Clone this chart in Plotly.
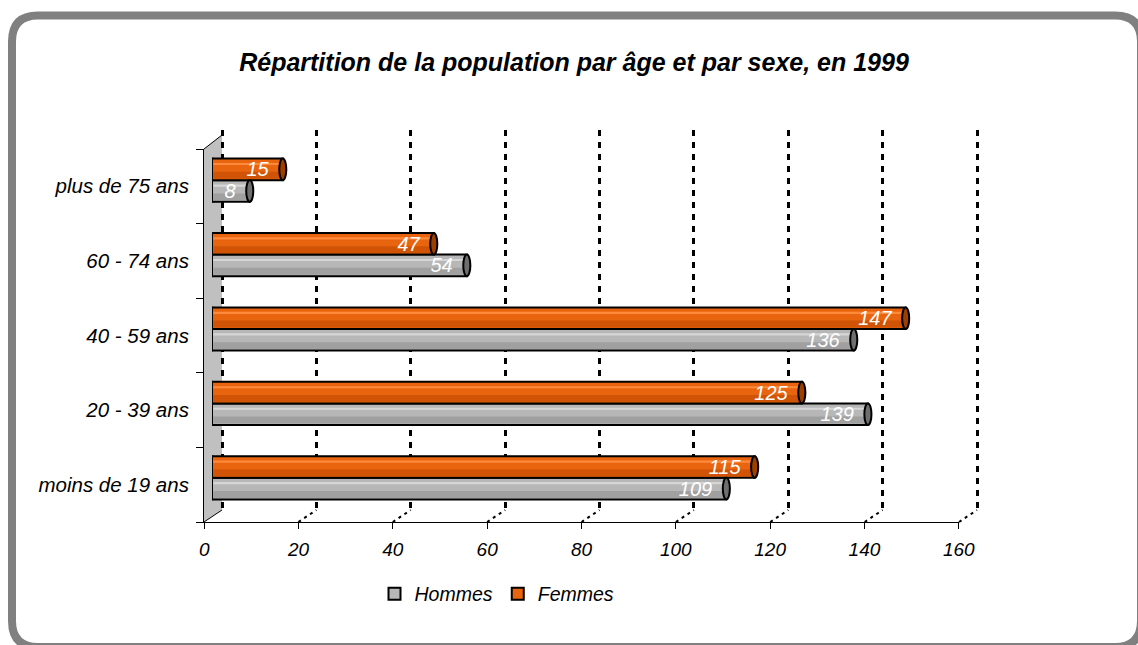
import plotly.graph_objects as go

# ---------------- data ----------------
categories = ["moins de 19 ans", "20 - 39 ans", "40 - 59 ans", "60 - 74 ans", "plus de 75 ans"]
hommes = [109, 139, 136, 54, 8]
femmes = [115, 125, 147, 47, 15]
series_names = ["Hommes", "Femmes"]
x_ticks = [0, 20, 40, 60, 80, 100, 120, 140, 160]
title_text = "Répartition de la population par âge et par sexe, en 1999"

# ---------------- geometry / style ----------------
W, H = 1138, 645
FONT = "Liberation Sans, Arial, sans-serif"


def px(x):
    return x / W


def py(y):
    return 1 - y / H


X_MAX = 160
EPS = 0.05
FRONT_L, FRONT_R = 204, 959
BACK_L, BACK_R = 222, 977
BAR_L, BAR_R = 212, 967
FRONT_TOP, FRONT_BOT = 149, 522
WALL_TOP, WALL_BOT = 135, 510
GRID_TOP, GRID_BOT = 130, 510
BAR_TOP, BAR_BOT = 143, 515
BW = 0.29
PADPX = 8  # extra room so the 0 and 160 grid lines are not at the plot edge
GRID_SCALE = (BACK_R - BACK_L) / X_MAX
GRID_PAD = PADPX / GRID_SCALE

styles = {
    "Hommes": dict(main="#B7B7B7", light="#D6D6D6", dark="#A0A0A0", cap="#6E6E6E", offset=-BW),
    "Femmes": dict(main="#E8640F", light="#FF8A3C", dark="#D05306", cap="#9E3F00", offset=0.0),
}
values = {"Hommes": hommes, "Femmes": femmes}

fig = go.Figure()

# dummy traces so the grid subplot and the front-axis subplot exist
fig.add_trace(go.Scatter(x=[0], y=[0], mode="markers", marker=dict(opacity=0),
                         showlegend=False, hoverinfo="skip", xaxis="x", yaxis="y"))
fig.add_trace(go.Scatter(x=[0] * len(categories), y=categories, mode="markers",
                         marker=dict(opacity=0), showlegend=False, hoverinfo="skip",
                         xaxis="x3", yaxis="y3"))

shapes = []

for name in series_names:
    st = styles[name]
    vals = values[name]
    off = st["offset"]
    # main cylinder body
    fig.add_trace(go.Bar(
        x=vals, y=categories, orientation="h", base=0, width=BW, offset=off,
        marker=dict(color=st["main"], line=dict(color="black", width=2)),
        name=name, showlegend=True, hoverinfo="skip", xaxis="x2", yaxis="y2",
    ))
    # darker lower band
    fig.add_trace(go.Bar(
        x=[v - 0.5 for v in vals], y=categories, orientation="h", base=0.25,
        width=BW * 0.32, offset=off + 0.02,
        marker=dict(color=st["dark"], line=dict(width=0)),
        showlegend=False, hoverinfo="skip", xaxis="x2", yaxis="y2",
    ))
    # light highlight band
    fig.add_trace(go.Bar(
        x=[v - 0.5 for v in vals], y=categories, orientation="h", base=0.25,
        width=BW * 0.1, offset=off + BW * 0.7,
        marker=dict(color=st["light"], line=dict(width=0)),
        showlegend=False, hoverinfo="skip", xaxis="x2", yaxis="y2",
    ))
    # value labels (transparent bar carrying the text)
    fig.add_trace(go.Bar(
        x=vals, y=categories, orientation="h", base=0, width=BW, offset=off,
        marker=dict(color="rgba(0,0,0,0)", line=dict(width=0)),
        texttemplate="%{x}\u00a0\u00a0", textposition="inside", insidetextanchor="end",
        textangle=0, constraintext="none",
        textfont=dict(family=FONT, size=20, color="white", style="italic"),
        showlegend=False, hoverinfo="skip", xaxis="x2", yaxis="y2",
    ))
    # cylinder caps
    for i, v in enumerate(vals):
        shapes.append(dict(type="circle", xref="x2", yref="y2",
                           x0=v - 0.75, x1=v + 0.75, y0=i + off, y1=i + off + BW,
                           fillcolor=st["cap"], line=dict(color="black", width=2), layer="above"))
        shapes.append(dict(type="circle", xref="x2", yref="y2",
                           x0=-0.85, x1=0.85, y0=i + off, y1=i + off + BW,
                           fillcolor=st["main"], line=dict(color="black", width=2), layer="below"))

# side wall
wall = (f"M {px(FRONT_L)},{py(FRONT_BOT)} L {px(FRONT_L)},{py(FRONT_TOP)} "
        f"L {px(BACK_L)},{py(WALL_TOP)} L {px(BACK_L)},{py(WALL_BOT)} Z")
shapes.append(dict(type="path", xref="paper", yref="paper", path=wall,
                   fillcolor="#C0C0C0", line=dict(width=0), layer="below"))
shapes.append(dict(type="line", xref="paper", yref="paper",
                   x0=px(FRONT_L), y0=py(FRONT_TOP), x1=px(BACK_L), y1=py(WALL_TOP),
                   line=dict(color="black", width=1)))
shapes.append(dict(type="line", xref="paper", yref="paper",
                   x0=px(FRONT_L), y0=py(FRONT_BOT), x1=px(BACK_L), y1=py(WALL_BOT),
                   line=dict(color="black", width=1)))
# floor diagonals
for v in x_ticks[1:]:
    xf = FRONT_L + v / X_MAX * (FRONT_R - FRONT_L)
    xb = BACK_L + v / X_MAX * (BACK_R - BACK_L)
    shapes.append(dict(type="line", xref="paper", yref="paper",
                       x0=px(xf), y0=py(FRONT_BOT), x1=px(xb), y1=py(WALL_BOT),
                       line=dict(color="black", width=2, dash="3px,4px")))

# rounded frame
r = 26
L, T, R, B = 12, 15.5, 1141, 647
pts = [("M", L, T + r), ("Q", L, T, L + r, T), ("L", R - r, T), ("Q", R, T, R, T + r),
       ("L", R, B - r), ("Q", R, B, R - r, B), ("L", L + r, B), ("Q", L, B, L, B - r)]
path = ""
for p in pts:
    cmd = p[0]
    coords = p[1:]
    seg = " ".join(f"{px(coords[k])},{py(coords[k + 1])}" for k in range(0, len(coords), 2))
    path += f"{cmd} {seg} "
path += "Z"
shapes.append(dict(type="path", xref="paper", yref="paper", path=path,
                   line=dict(color="#808080", width=8), fillcolor="rgba(0,0,0,0)"))

fig.update_layout(
    width=W, height=H, autosize=False,
    margin=dict(l=0, r=0, t=0, b=0, pad=0, autoexpand=False),
    paper_bgcolor="white", plot_bgcolor="rgba(0,0,0,0)",
    font=dict(family=FONT, color="black"),
    barmode="overlay",
    title=dict(text=title_text, x=px(574), xanchor="center", y=py(62), yanchor="middle",
               xref="paper", yref="paper", automargin=False,
               font=dict(family=FONT, size=25, weight="bold", style="italic", color="black")),
    showlegend=True,
    legend=dict(orientation="h", x=px(497), xanchor="center", y=py(594), yanchor="middle",
                font=dict(family=FONT, size=19.5, style="italic", color="black"),
                bgcolor="rgba(0,0,0,0)", traceorder="normal"),
    # back wall grid
    xaxis=dict(domain=[px(BACK_L - PADPX), px(BACK_R + PADPX)],
               range=[-GRID_PAD, X_MAX + GRID_PAD], anchor="y",
               showgrid=True, gridcolor="black", gridwidth=2.5, griddash="6px,6px",
               tickvals=x_ticks, showticklabels=False, ticks="", zeroline=False, showline=False,
               automargin=False),
    yaxis=dict(domain=[py(GRID_BOT), py(GRID_TOP)], range=[0, 1], anchor="x",
               showgrid=False, showticklabels=False, zeroline=False, showline=False, ticks="",
               automargin=False),
    # bars
    xaxis2=dict(domain=[px(BAR_L), px(BAR_R)], range=[0, X_MAX], anchor="y2", visible=False,
                automargin=False),
    yaxis2=dict(domain=[py(BAR_BOT), py(BAR_TOP)], anchor="x2", type="category",
                categoryorder="array", categoryarray=categories, range=[-0.5, len(categories) - 0.5],
                visible=False, automargin=False),
    # front axes
    xaxis3=dict(domain=[px(FRONT_L), px(FRONT_R)], range=[-EPS, X_MAX + EPS], anchor="y3",
                showline=True, linecolor="black", linewidth=1, ticks="outside", ticklen=6,
                tickcolor="black", tickvals=x_ticks, showgrid=False, zeroline=False,
                tickfont=dict(family=FONT, size=19, style="italic", color="black"),
                ticklabelstandoff=4, automargin=False),
    yaxis3=dict(domain=[py(FRONT_BOT), py(FRONT_TOP)], anchor="x3", type="category",
                categoryorder="array", categoryarray=categories,
                range=[-0.5, len(categories) - 0.5],
                showline=True, linecolor="black", linewidth=1, ticks="outside", ticklen=7,
                tickcolor="black", tickson="boundaries", showgrid=False, zeroline=False,
                tickfont=dict(family=FONT, size=20.5, style="italic", color="black"),
                ticklabelstandoff=10, automargin=False),
    shapes=shapes,
)

fig.write_html(
    "out.html",
    config={"displayModeBar": False},
    post_script="document.body.style.margin='0';document.body.style.overflow='hidden';",
)
